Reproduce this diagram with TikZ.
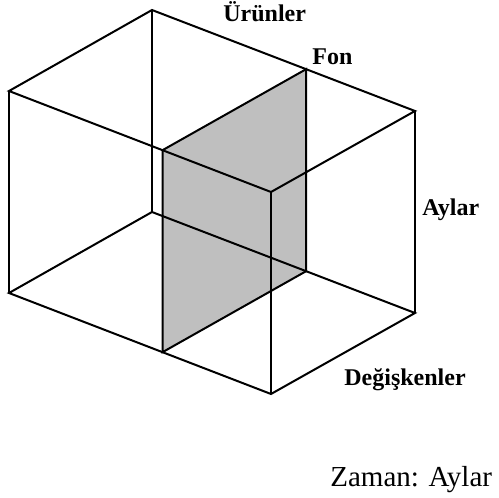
\documentclass[tikz,border=0pt]{standalone}
\usepackage{fontspec}
\setmainfont{Liberation Serif}
\usetikzlibrary{calc}
\begin{document}
\begin{tikzpicture}[
        x=0.5pt, y=-0.5pt,
        edge/.style={line width=1pt, line join=miter},
        slice/.style={fill=black!25},
        axislbl/.style={font=\fontsize{12}{14}\selectfont\bfseries, anchor=base west, inner sep=0pt},
        note/.style={font=\fontsize{14.5}{17}\selectfont, anchor=base west, inner sep=0pt}
    ]
        \useasboundingbox (0,0) rectangle (499,498);
        % --- Küpün köşeleri ---
        \coordinate (tb) at (152,10);
        \coordinate (tl) at (9,91);
        \coordinate (tr) at (415,111);
        \coordinate (tf) at (271,192);
        \coordinate (bb) at (152,212);
        \coordinate (bl) at (9,293);
        \coordinate (br) at (415,313);
        \coordinate (bf) at (271,394);
        % --- Fon dilimi ---
        \coordinate (s1) at ($(tl)!0.586!(tf)$);
        \coordinate (s2) at ($(tb)!0.586!(tr)$);
        \coordinate (s3) at ($(bb)!0.586!(br)$);
        \coordinate (s4) at ($(bl)!0.586!(bf)$);
        \fill[slice] (s1) -- (s2) -- (s3) -- (s4) -- cycle;
        % --- Küp ---
        \draw[edge] (tb) -- (tl) -- (tf) -- (tr) -- cycle;
        \draw[edge] (bb) -- (bl) -- (bf) -- (br) -- cycle;
        \foreach \corner in {b,l,f,r}
            \draw[edge] (t\corner) -- (b\corner);
        \draw[edge] (s1) -- (s2) -- (s3) -- (s4) -- cycle;
        % --- Etiketler ---
        \node[axislbl] (urun) at (223,21) {Ürünler};
        \node[axislbl] (fon) at (312,64) {Fon};
        \node[axislbl] (ay) at (422,215) {Aylar};
        \node[axislbl] (deg) at (344,385) {Değişkenler};
        \node[note] (zaman) at (330,486) {Zaman: Aylar};
    \end{tikzpicture}
\end{document}
